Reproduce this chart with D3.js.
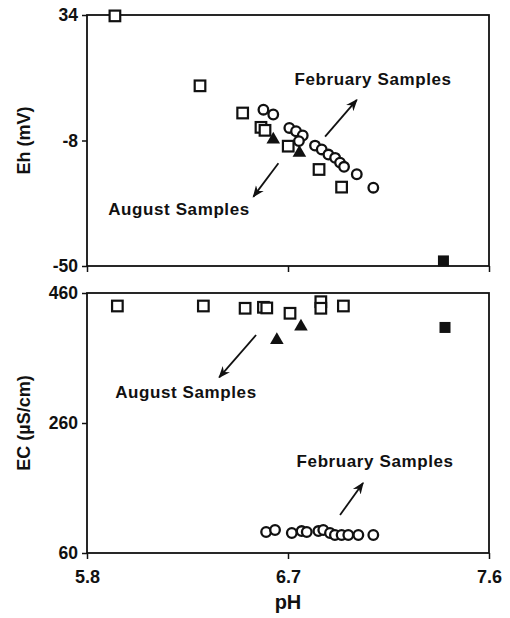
<!DOCTYPE html>
<html><head><meta charset="utf-8">
<script src="https://cdn.jsdelivr.net/npm/d3@7"></script>
<style>body{margin:0;background:#fff}svg{display:block}text{font-family:"Liberation Sans",Arial,sans-serif;font-weight:bold;fill:#111}</style>
</head><body><svg id="c" width="510" height="618"></svg>
<script>
// ---- data ----
const xTicks = [5.8, 6.7, 7.6];
const ehTicks = [34, -8, -50];
const ecTicks = [460, 260, 60];
// Top panel (Eh)
const ehOpenSquares = [[5.925,33.7],[6.306,10.3],[6.497,1.2],[6.579,-3.6],[6.597,-4.6],[6.701,-9.9],[6.839,-17.7],[6.94,-23.6]];
const ehTriangles = [[6.634,-7.7],[6.751,-12.1]];
const ehCircles = [[6.59,2.3],[6.634,0.7],[6.706,-3.8],[6.736,-4.9],[6.766,-6.3],[6.749,-8.2],[6.821,-9.7],[6.851,-11],[6.881,-12.7],[6.911,-13.8],[6.933,-15.4],[6.951,-16.8],[7.008,-19.3],[7.082,-23.8]];
const ehFilledSquares = [[7.396,-48.3]];
// Bottom panel (EC)
const ecOpenSquares = [[5.936,440],[6.321,440],[6.508,436.5],[6.59,438],[6.605,437],[6.709,428.8],[6.847,446.6],[6.847,436.5],[6.948,440]];
const ecTriangles = [[6.65,387.7],[6.758,408.2]];
const ecCircles = [[6.602,92.3],[6.642,95.4],[6.717,90.8],[6.761,93.8],[6.784,92.3],[6.836,93.8],[6.858,95.4],[6.888,90.8],[6.91,87.7],[6.94,87.7],[6.97,87.7],[7.015,87.7],[7.082,87.7]];
const ecFilledSquares = [[7.403,407]];
// annotations [label, textX(pH), textY(value), arrowFrom[pH,v], arrowTo[pH,v]]
const ehNotes = [["February Samples",7.081,10.6,[6.866,-6.7],[7.008,5.6]],["August Samples",6.212,-32.9,[6.657,-15.6],[6.545,-26.8]]];
const ecNotes = [["August Samples",6.243,298.5,[6.557,395.4],[6.392,330.3]],["February Samples",7.09,192,[6.933,118.5],[7.036,167.7]]];

// ---- drawing ----
const svg = d3.select("#c");
const x = d3.scaleLinear().domain([5.8,7.6]).range([87,489]);
const yEh = d3.scaleLinear().domain([-50,34]).range([266,15]);
const yEc = d3.scaleLinear().domain([60,460]).range([553,293]);

svg.append("defs").append("marker").attr("id","ah").attr("viewBox","0 0 10 10")
  .attr("refX",9).attr("refY",5).attr("markerWidth",12).attr("markerHeight",12)
  .attr("markerUnits","userSpaceOnUse").attr("orient","auto")
  .append("path").attr("d","M0,1 L10,5 L0,9 L3,5 Z").attr("fill","#111");

function panel(y, ticks, label, data, notes, showX){
  const g = svg.append("g");
  const [r0,r1] = y.range();
  g.append("rect").attr("x",x(5.8)).attr("y",r1).attr("width",x(7.6)-x(5.8)).attr("height",r0-r1)
    .attr("fill","none").attr("stroke","#111").attr("stroke-width",1.8);
  const ya = g.append("g").attr("transform",`translate(${x(5.8)},0)`)
    .call(d3.axisLeft(y).tickValues(ticks).tickSize(5).tickSizeOuter(0).tickFormat(d=>String(d)));
  ya.select(".domain").remove();
  ya.selectAll("line").attr("stroke","#111").attr("stroke-width",1.5);
  ya.selectAll("text").attr("font-size",17.5).attr("dx",-1);
  const xa = g.append("g").attr("transform",`translate(0,${r0})`)
    .call(d3.axisBottom(x).tickValues(xTicks).tickSize(6).tickSizeOuter(0).tickFormat(d3.format(".1f")));
  xa.select(".domain").remove();
  xa.selectAll("line").attr("stroke","#111").attr("stroke-width",1.5);
  if(showX) xa.selectAll("text").attr("font-size",18).attr("y",30).attr("dy",0); else xa.selectAll("text").remove();
  g.append("text").attr("transform",`translate(30,${(r0+r1)/2}) rotate(-90)`).attr("text-anchor","middle")
    .attr("font-size",18).text(label);
  const [os,tr,ci,fs] = data;
  g.selectAll(null).data(ci).join("circle").attr("cx",d=>x(d[0])).attr("cy",d=>y(d[1])).attr("r",4.8)
    .attr("fill","#fff").attr("stroke","#111").attr("stroke-width",2.3);
  g.selectAll(null).data(os).join("rect").attr("x",d=>x(d[0])-5.3).attr("y",d=>y(d[1])-5.3).attr("width",10.6).attr("height",10.6)
    .attr("fill","#fff").attr("stroke","#111").attr("stroke-width",2.2);
  g.selectAll(null).data(tr).join("path").attr("transform",d=>`translate(${x(d[0])},${y(d[1])})`)
    .attr("d",d3.symbol(d3.symbolTriangle,80)).attr("fill","#111");
  g.selectAll(null).data(fs).join("rect").attr("x",d=>x(d[0])-5.5).attr("y",d=>y(d[1])-5.5).attr("width",11).attr("height",11)
    .attr("fill","#111");
  notes.forEach(n=>{
    g.append("text").attr("x",x(n[1])).attr("y",y(n[2])).attr("text-anchor","middle").attr("font-size",17)
      .attr("letter-spacing",0.6).text(n[0]);
    g.append("line").attr("x1",x(n[3][0])).attr("y1",y(n[3][1])).attr("x2",x(n[4][0])).attr("y2",y(n[4][1]))
      .attr("stroke","#111").attr("stroke-width",1.8).attr("marker-end","url(#ah)");
  });
}
panel(yEh, ehTicks, "Eh (mV)", [ehOpenSquares,ehTriangles,ehCircles,ehFilledSquares], ehNotes, false);
panel(yEc, ecTicks, "EC (µS/cm)", [ecOpenSquares,ecTriangles,ecCircles,ecFilledSquares], ecNotes, true);
svg.append("text").attr("x",x(6.7)).attr("y",609).attr("text-anchor","middle").attr("font-size",20).text("pH");
</script></body></html>
